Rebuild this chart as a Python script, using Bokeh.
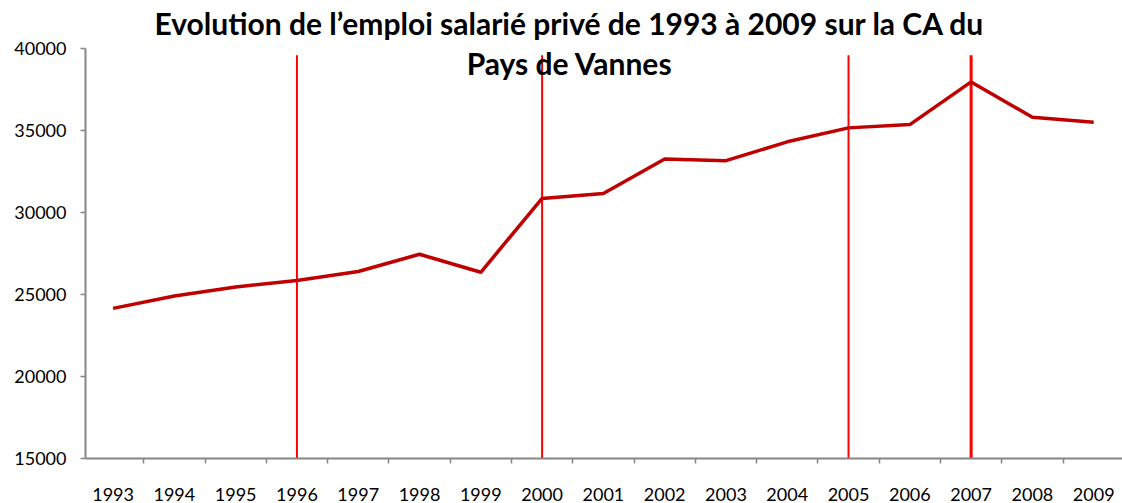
from bokeh.plotting import figure
from bokeh.models import FixedTicker, Range1d, Label, ColumnDataSource
from bokeh.embed import file_html
from bokeh.resources import INLINE

years = [1993, 1994, 1995, 1996, 1997, 1998, 1999, 2000, 2001, 2002, 2003,
         2004, 2005, 2006, 2007, 2008, 2009]
emploi = [24150, 24900, 25450, 25850, 26400, 27450, 26350, 30850, 31150,
          33250, 33150, 34300, 35150, 35350, 37950, 35800, 35500]
y_ticks = [15000, 20000, 25000, 30000, 35000, 40000]
marker_years = [1996, 2000, 2005, 2007]
marker_top = 39580
marker_bottom = 15000
title_lines = ["Evolution de l\u2019emploi salarié privé de 1993 à 2009 sur la CA du",
               "Pays de Vannes"]

FONT = "Lato"

p = figure(width=1122, height=503, output_backend="svg", toolbar_location=None,
           x_range=Range1d(1992.55, 2009.47), y_range=Range1d(15000, 42913),
           min_border_left=85, min_border_right=0, min_border_top=0,
           min_border_bottom=43)
p.outline_line_color = None
p.xgrid.visible = False
p.ygrid.visible = False
p.background_fill_color = "white"
p.border_fill_color = "white"

# vertical markers
widths = [2, 2, 2, 3]
p.segment(x0=marker_years, x1=marker_years,
          y0=[marker_bottom] * len(marker_years), y1=[marker_top] * len(marker_years),
          line_color="#ff0000", line_width=widths)

src = ColumnDataSource(dict(x=years, y=emploi))
p.line("x", "y", source=src, line_color="#c00000", line_width=3.5)

# x axis: labels at category centres, ticks at boundaries
xa = p.xaxis[0]
xa.ticker = FixedTicker(ticks=years,
                        minor_ticks=[y + 0.5 for y in years[:-1]])
xa.major_tick_out = 0
xa.major_tick_in = 0
xa.minor_tick_out = 5
xa.minor_tick_in = 0
xa.minor_tick_line_color = "#868686"
xa.minor_tick_line_width = 1.5
xa.axis_line_color = "#868686"
xa.axis_line_width = 2
xa.major_label_text_font = FONT
xa.major_label_text_font_size = "18px"
xa.major_label_text_color = "black"
xa.major_label_standoff = 24

ya = p.yaxis[0]
ya.bounds = (15000, 40000)
ya.ticker = FixedTicker(ticks=y_ticks, minor_ticks=[])
ya.major_tick_out = 5
ya.major_tick_in = 0
ya.major_tick_line_color = "#868686"
ya.major_tick_line_width = 1.5
ya.axis_line_color = "#868686"
ya.axis_line_width = 2
ya.major_label_text_font = FONT
ya.major_label_text_font_size = "18px"
ya.major_label_text_color = "black"
ya.major_label_standoff = 14

# title drawn as labels so that it overlaps the plot area like the original
title_y = [41520, 39090]
for txt, ty in zip(title_lines, title_y):
    p.add_layout(Label(x=2000.45, y=ty, text=txt, text_align="center",
                       text_baseline="alphabetic", text_font=FONT,
                       text_font_style="bold", text_font_size="30px",
                       text_color="black"))

open("out.html", "w").write(file_html(p, INLINE))
